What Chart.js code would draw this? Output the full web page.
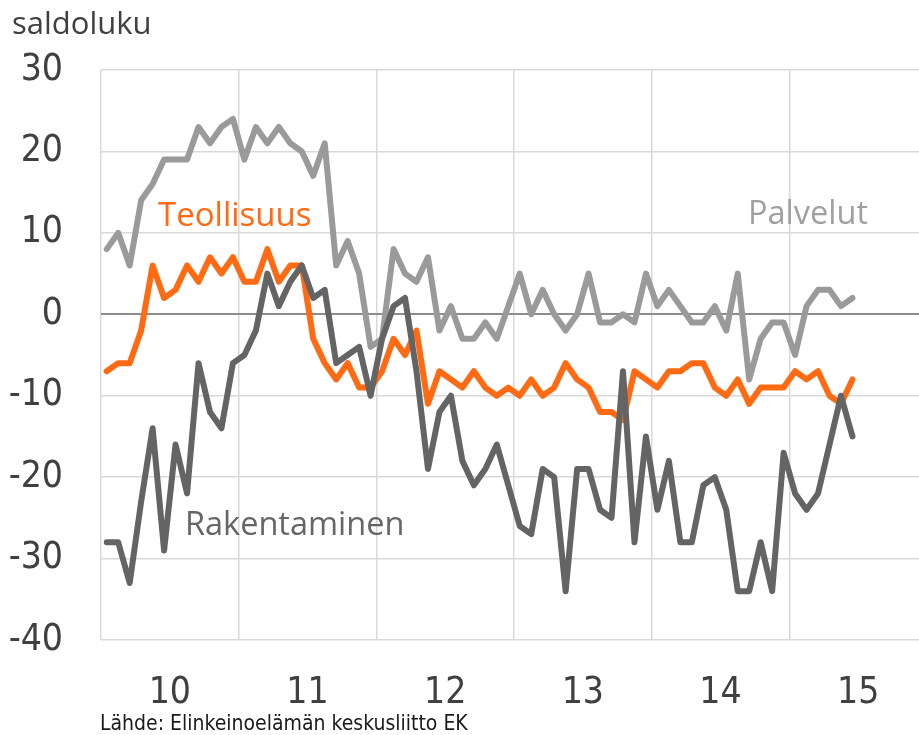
<!DOCTYPE html>
<html>
<head>
<meta charset="utf-8">
<script src="https://cdn.jsdelivr.net/npm/chart.js@4.4.1/dist/chart.umd.min.js"></script>
<style>
  html, body { margin: 0; padding: 0; background: #fff; }
  #wrap { position: relative; width: 919px; height: 735px; overflow: hidden; }
  #chart { position: absolute; left: 0; top: 0; }
  .lbl { position: absolute; white-space: nowrap; line-height: 1; }
  .serif { font-family: 'Open Sans', 'Noto Sans', sans-serif; }
  .narrow { font-family: 'Liberation Sans Narrow', 'DejaVu Sans Condensed', 'Roboto', sans-serif; }
</style>
</head>
<body>
<div id="wrap">
  <canvas id="chart" width="919" height="735"></canvas>
  <div class="lbl serif" style="left:12px; top:7px; font-size:31px; color:#404040;">saldoluku</div>
  <div class="lbl serif" style="left:158px; top:197px; font-size:33px; color:#ff6a13;">Teollisuus</div>
  <div class="lbl serif" style="left:748px; top:196px; font-size:32.5px; color:#a0a0a0;">Palvelut</div>
  <div class="lbl serif" style="left:185px; top:507px; font-size:32.5px; color:#666666;">Rakentaminen</div>
  <div class="lbl narrow" style="left:100px; top:713px; font-size:21px; color:#1a1a1a;">Lähde: Elinkeinoelämän keskusliitto EK</div>
</div>
<script>
// monthly balance figures, Jan 2010 - Jun 2015
const yearLabels = ['10', '11', '12', '13', '14', '15'];
const yTicks = [-40, -30, -20, -10, 0, 10, 20, 30];

const teollisuus = [
  -7, -6, -6, -2, 6, 2, 3, 6, 4, 7, 5, 7,
  4, 4, 8, 4, 6, 6, -3, -6, -8, -6, -9, -9,
  -7, -3, -5, -2, -11, -7, -8, -9, -7, -9, -10, -9,
  -10, -8, -10, -9, -6, -8, -9, -12, -12, -13, -7, -8,
  -9, -7, -7, -6, -6, -9, -10, -8, -11, -9, -9, -9,
  -7, -8, -7, -10, -11, -8
];
const palvelut = [
  8, 10, 6, 14, 16, 19, 19, 19, 23, 21, 23, 24,
  19, 23, 21, 23, 21, 20, 17, 21, 6, 9, 5, -4,
  -3, 8, 5, 4, 7, -2, 1, -3, -3, -1, -3, 1,
  5, 0, 3, 0, -2, 0, 5, -1, -1, 0, -1, 5,
  1, 3, 1, -1, -1, 1, -2, 5, -8, -3, -1, -1,
  -5, 1, 3, 3, 1, 2
];
const rakentaminen = [
  -28, -28, -33, -23, -14, -29, -16, -22, -6, -12, -14, -6,
  -5, -2, 5, 1, 4, 6, 2, 3, -6, -5, -4, -10,
  -3, 1, 2, -7, -19, -12, -10, -18, -21, -19, -16, -21,
  -26, -27, -19, -20, -34, -19, -19, -24, -25, -7, -28, -15,
  -24, -18, -28, -28, -21, -20, -24, -34, -34, -28, -34, -17,
  -22, -24, -22, -16, -10, -15
];

// place each monthly value in the middle of its month slot
function toPoints(values) {
  return values.map((v, i) => ({ x: i + 0.5, y: v }));
}

const tickFont = { family: "'Liberation Sans Narrow', 'DejaVu Sans Condensed', Roboto, sans-serif", size: 37 };

const ctx = document.getElementById('chart').getContext('2d');
new Chart(ctx, {
  type: 'line',
  data: {
    datasets: [
      { label: 'Rakentaminen', data: toPoints(rakentaminen), borderColor: '#646464' },
      { label: 'Teollisuus', data: toPoints(teollisuus), borderColor: '#ff6a13' },
      { label: 'Palvelut', data: toPoints(palvelut), borderColor: '#9a9a9a' }
    ]
  },
  options: {
    responsive: false,
    animation: false,
    layout: { padding: { top: 70, right: 0, left: 0, bottom: 0 } },
    elements: {
      point: { radius: 0 },
      line: { borderWidth: 6, tension: 0, borderJoinStyle: 'round', borderCapStyle: 'round' }
    },
    plugins: { legend: { display: false }, tooltip: { enabled: false } },
    scales: {
      x: {
        type: 'linear',
        min: 0,
        max: 71.3,
        afterBuildTicks: axis => {
          axis.ticks = [0, 6, 12, 18, 24, 30, 36, 42, 48, 54, 60, 66].map(v => ({ value: v }));
        },
        afterFit: axis => { axis.height = 95; },
        border: { display: false },
        grid: {
          drawTicks: false,
          lineWidth: 1.5,
          color: c => (c.tick && c.tick.value % 12 === 0) ? '#d9d9d9' : 'rgba(0,0,0,0)'
        },
        ticks: {
          autoSkip: false,
          maxRotation: 0,
          padding: 31,
          color: '#404040',
          font: tickFont,
          callback: v => (v % 12 === 6) ? yearLabels[(v - 6) / 12] : ''
        }
      },
      y: {
        min: -40,
        max: 30,
        afterBuildTicks: axis => { axis.ticks = yTicks.map(v => ({ value: v })); },
        afterFit: axis => { axis.width = 101; },
        border: { display: false },
        grid: {
          drawTicks: false,
          lineWidth: c => (c.tick && c.tick.value === 0) ? 2 : 1.5,
          color: c => (c.tick && c.tick.value === 0) ? '#8c8c8c' : '#d9d9d9'
        },
        ticks: {
          padding: 38,
          color: '#404040',
          font: tickFont
        }
      }
    }
  }
});
</script>
</body>
</html>
